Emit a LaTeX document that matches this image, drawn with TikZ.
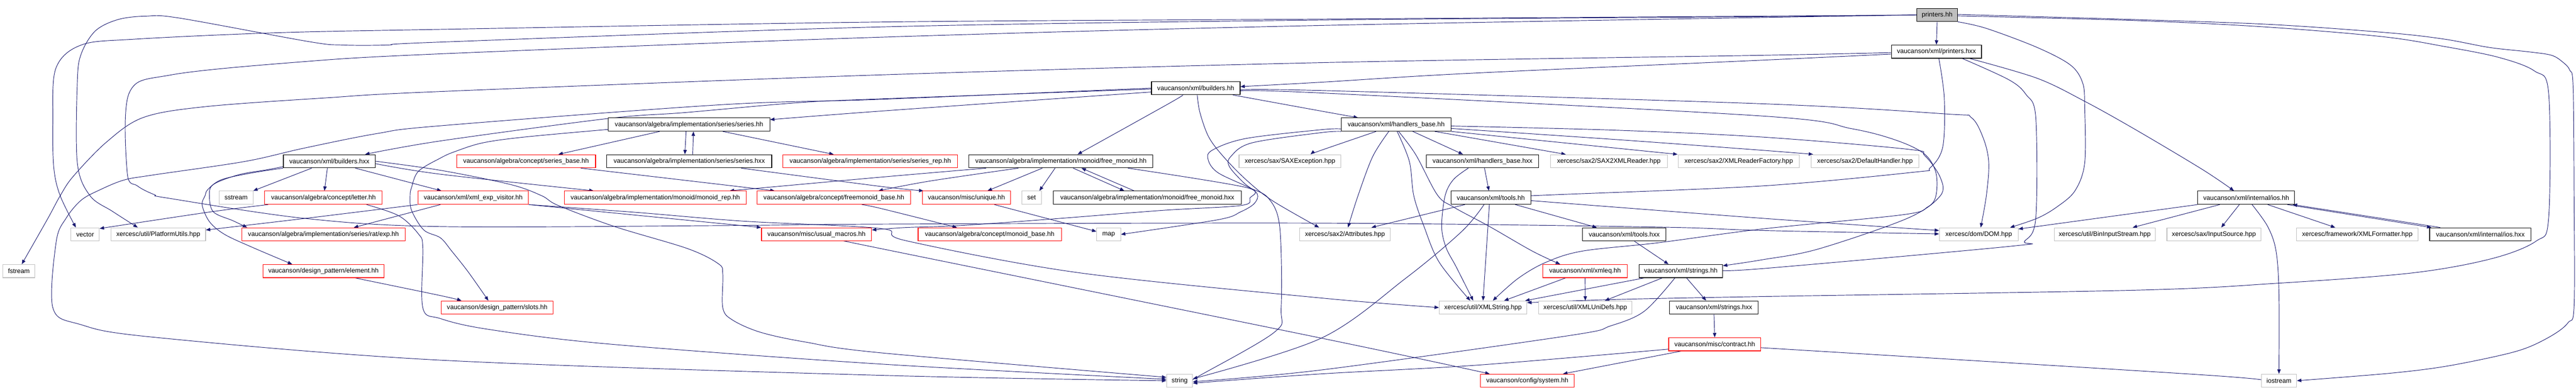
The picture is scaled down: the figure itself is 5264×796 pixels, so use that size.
\documentclass[tikz,border=0pt]{standalone}
\usepackage{fontspec}
\setmainfont{Liberation Sans}
\usetikzlibrary{arrows.meta}
\definecolor{edgec}{HTML}{191970}
\definecolor{grayb}{HTML}{BFBFBF}
\definecolor{redb}{HTML}{FF0000}
\newcommand\dxfont{\fontsize{13.3pt}{15pt}\selectfont}
\pgfdeclarelayer{bg}
\pgfsetlayers{bg,main}
\begin{document}
\begin{tikzpicture}[x=1pt,y=-1pt,
  box/.style={draw=black, line width=1.2pt, minimum height=27pt, inner sep=0pt, fill=white, font=\dxfont, text=black},
  rbox/.style={box, draw=redb},
  gbox/.style={box, draw=grayb},
  rootbox/.style={box, fill=grayb},
  edge/.style={draw=edgec, line width=1pt, -{Triangle[length=9pt,width=7pt]}},
  sm/.style={smooth, tension=0.55}]
\useasboundingbox (0,0) rectangle (5264,796);
% row A/B/C/D
\node[rootbox, minimum width=83pt] (ph) at (3958.5,30.5) {printers.hh};
\node[box, minimum width=184pt] (phx) at (3957,105.5) {vaucanson/xml/printers.hxx};
\node[box, minimum width=181pt] (bh) at (2443.5,180) {vaucanson/xml/builders.hh};
\node[box, minimum width=330pt] (ser) at (1408,254.5) {vaucanson/algebra/implementation/series/series.hh};
\node[box, minimum width=224pt] (hb) at (2853,254.5) {vaucanson/xml/handlers\_base.hh};
% row E
\node[box, minimum width=188pt] (bx) at (673,329.5) {vaucanson/xml/builders.hxx};
\node[rbox, minimum width=284pt] (sb) at (1075,329.5) {vaucanson/algebra/concept/series\_base.hh};
\node[box, minimum width=337pt] (sxx) at (1408.5,329.5) {vaucanson/algebra/implementation/series/series.hxx};
\node[rbox, minimum width=357pt] (sr) at (1778.5,329.5) {vaucanson/algebra/implementation/series/series\_rep.hh};
\node[box, minimum width=376pt] (fm) at (2168,329.5) {vaucanson/algebra/implementation/monoid/free\_monoid.hh};
\node[gbox, minimum width=208pt] (sax) at (2636,329.5) {xercesc/sax/SAXException.hpp};
\node[box, minimum width=229pt] (hbx) at (3029.5,329.5) {vaucanson/xml/handlers\_base.hxx};
\node[gbox, minimum width=239pt] (s2x) at (3287.5,329.5) {xercesc/sax2/SAX2XMLReader.hpp};
\node[gbox, minimum width=248pt] (xrf) at (3553,329.5) {xercesc/sax2/XMLReaderFactory.hpp};
\node[gbox, minimum width=220pt] (dh) at (3811,329.5) {xercesc/sax2/DefaultHandler.hpp};
% row F
\node[gbox, minimum width=69pt] (ss) at (482.5,404) {sstream};
\node[rbox, minimum width=240pt] (lt) at (661,404) {vaucanson/algebra/concept/letter.hh};
\node[rbox, minimum width=226pt] (xv) at (967,404) {vaucanson/xml/xml\_exp\_visitor.hh};
\node[rbox, minimum width=372pt] (mr) at (1339,404) {vaucanson/algebra/implementation/monoid/monoid\_rep.hh};
\node[rbox, minimum width=314pt] (fb) at (1704,404) {vaucanson/algebra/concept/freemonoid\_base.hh};
\node[rbox, minimum width=180pt] (uq) at (1975,404) {vaucanson/misc/unique.hh};
\node[gbox, minimum width=40pt] (st) at (2108,404) {set};
\node[box, minimum width=385pt] (fmx) at (2344.5,404) {vaucanson/algebra/implementation/monoid/free\_monoid.hxx};
\node[box, minimum width=163pt] (th) at (3046.5,404) {vaucanson/xml/tools.hh};
\node[box, minimum width=198pt] (ioh) at (4590,404) {vaucanson/xml/internal/ios.hh};
% row G
\node[gbox, minimum width=58pt] (vec) at (174,479) {vector};
\node[gbox, minimum width=193pt] (pu) at (323.5,479) {xercesc/util/PlatformUtils.hpp};
\node[rbox, minimum width=334pt] (ex) at (661,479) {vaucanson/algebra/implementation/series/rat/exp.hh};
\node[rbox, minimum width=225pt] (um) at (1668.5,479) {vaucanson/misc/usual\_macros.hh};
\node[rbox, minimum width=293pt] (mb) at (2022.5,479) {vaucanson/algebra/concept/monoid\_base.hh};
\node[gbox, minimum width=49pt] (mp) at (2265.5,479) {map};
\node[gbox, minimum width=185pt] (at) at (2748.5,479) {xercesc/sax2/Attributes.hpp};
\node[box, minimum width=170pt] (tx) at (3319,479) {vaucanson/xml/tools.hxx};
\node[gbox, minimum width=161pt] (dom) at (4043.5,479) {xercesc/dom/DOM.hpp};
\node[gbox, minimum width=206pt] (bis) at (4301,479) {xercesc/util/BinInputStream.hpp};
\node[gbox, minimum width=192pt] (is) at (4524,479) {xercesc/sax/InputSource.hpp};
\node[gbox, minimum width=248pt] (xf) at (4817,479) {xercesc/framework/XMLFormatter.hpp};
\node[box, minimum width=207pt] (ix) at (5068.5,479) {vaucanson/xml/internal/ios.hxx};
% row H
\node[gbox, minimum width=65pt] (fs) at (38.5,554) {fstream};
\node[rbox, minimum width=248pt] (el) at (661,554) {vaucanson/design\_pattern/element.hh};
\node[rbox, minimum width=172pt] (xq) at (3239,554) {vaucanson/xml/xmleq.hh};
\node[box, minimum width=171pt] (sth) at (3434.5,554) {vaucanson/xml/strings.hh};
% row I
\node[rbox, minimum width=228pt] (sl) at (1016,628.5) {vaucanson/design\_pattern/slots.hh};
\node[gbox, minimum width=179pt] (xs) at (3030.5,628.5) {xercesc/util/XMLString.hpp};
\node[gbox, minimum width=191pt] (xu) at (3239.5,628.5) {xercesc/util/XMLUniDefs.hpp};
\node[box, minimum width=181pt] (shx) at (3502.5,628.5) {vaucanson/xml/strings.hxx};
% row K, J
\node[rbox, minimum width=188pt] (ct) at (3504,703.5) {vaucanson/misc/contract.hh};
\node[gbox, minimum width=53pt] (str) at (2410.5,778) {string};
\node[rbox, minimum width=192pt] (sys) at (3121,778) {vaucanson/config/system.hh};
\node[gbox, minimum width=72pt] (ios) at (4657,778) {iostream};

\begin{pgfonlayer}{bg}
% printers.hh
\draw[edge] (ph.south) -- (phx.north);
\draw[edge] plot[sm] coordinates {(ph.west) (3600,33) (2700,39) (1800,45) (900,60) (563,67) (276,80) (166,92) (114,140) (108,250) (110,343) (123,400) ([xshift=-19pt]vec.north)};
\draw[edge] plot[sm] coordinates {(ph.west) (3600,34) (2700,41) (1800,55) (900,86) (792,92) (700,92) (631,85) (367,37) (298,33) (241,40) (195,63) (166,110) (158,167) (158,333) (184,400) (230,432) ([xshift=-42pt]pu.north)};
\draw[edge] plot[sm] coordinates {(ph.west) (2700,52) (1800,76) (900,110) (608,127) (350,153) (264,190) (260,353) (281,380) (316,398) (344,405) (620,446) (900,463) (1471,461) (1800,458) (2700,456) (3383,464) (3600,471) ([yshift=1pt]dom.west)};
\draw[edge] plot[sm] coordinates {(ph.south east) (4059,58) (4163,97) (4231,133) (4256,170) (4260,220) (4260,333) (4240,390) (4203,423) (4163,446) ([xshift=64pt]dom.north)};
\draw[edge] plot[sm] coordinates {([yshift=-2pt]ph.east) (4364,42) (4628,55) (4869,75) (4995,95) (5105,117) (5179,145) (5208,190) (5208,446) (5182,493) (5090,529) (4927,558) (4651,579) (4364,593) (3600,606) (3300,612) ([yshift=10pt]xs.east)};
\draw[edge] plot[sm] coordinates {([yshift=1pt]ph.east) (4364,40) (4640,50) (4881,67) (4995,80) (5087,97) (5168,106) (5214,113) (5237,127) (5251,143) (5258,177) (5260,400) (5260,626) (5248,659) (5219,683) (5168,709) (5110,726) (4995,749) (4881,763) (ios.east)};
% printers.hxx
\draw[edge] plot[sm] coordinates {([yshift=-2pt]phx.west) (3600,113) (2700,128) (1800,153) (900,187) (666,200) (419,218) (293,240) (218,290) (150,360) (123,400) (98,446) ([xshift=6pt]fs.north)};
\draw[edge] plot[sm] coordinates {([yshift=-5pt]phx.west) (3600,123) (3000,150) (2700,168) ([yshift=3pt]bh.east)};
\draw[edge] plot[sm] coordinates {([xshift=5pt]phx.south) (3973,200) (3970,300) (3944,343) (3910,352) (3600,380) (3176,398) ([yshift=4pt]th.east)};
\draw[edge] plot[sm] coordinates {([xshift=53pt]phx.south) (4105,163) (4140,193) (4160,240) (4160,446) (4137,493) (4111,503) (3600,549) ([yshift=3pt]sth.east)};
\draw[edge] plot[sm] coordinates {([xshift=68pt]phx.south) (4163,160) (4260,207) (4364,265) (4500,346) ([xshift=-25pt]ioh.north)};
% builders.hh
\draw[edge] plot[sm] coordinates {([yshift=-2pt]bh.west) (1800,202) (1629,210) (1400,230) (1244,242) (900,288) ([xshift=73pt]bx.north)};
\draw[edge] plot[sm] coordinates {([yshift=-8pt]bh.west) (1800,227) ([yshift=10pt]ser.east)};
\draw[edge] plot[sm] coordinates {(bh.west) (1800,203) (1474,214) (900,257) (770,273) (620,303) (500,330) (310,358) (253,368) (204,388) (166,409) (135,446) (115,493) (108,629) (164,663) (313,689) (900,736) (1800,767) (str.west)};
\draw[edge] plot[sm] coordinates {([xshift=-26pt]bh.south) (2386,213) ([xshift=34pt]fm.north)};
\draw[edge] plot[sm] coordinates {([xshift=3pt]bh.south) (2452,230) (2470,280) (2500,320) (2546,367) (2600,410) ([xshift=-53pt]at.north)};
\draw[edge] plot[sm] coordinates {([xshift=76pt]bh.south) (2700,227) ([xshift=-78pt]hb.north)};
\draw[edge] plot[sm] coordinates {([yshift=-4pt]bh.east) (2700,185) (3600,212) (3979,233) (4028,240) (4053,283) (4064,333) (4059,400) ([xshift=4pt]dom.north)};
\draw[edge] plot[sm] coordinates {([yshift=-6pt]bh.east) (2700,190) (3600,237) (3784,263) (3876,287) (3933,315) (3956,353) (3956,400) (3939,423) (3887,439) (3600,468) (3389,496) (3234,513) (3159,536) (3102,569) ([xshift=20pt]xs.north)};
% handlers_base.hh
\draw[edge] ([xshift=34pt]hb.south) -- ([xshift=-40pt]hbx.north);
\draw[edge] ([xshift=79pt]hb.south) -- ([xshift=-88pt]s2x.north);
\draw[edge] (hb.south east) -- ([xshift=-125pt]xrf.north);
\draw[edge] plot[sm] coordinates {([yshift=-8pt]hb.east) (3300,285) (3600,307) ([xshift=-106pt]dh.north)};
\draw[edge] plot[sm] coordinates {([yshift=-3pt]hb.east) (3300,266) (3600,280) (3899,305) (3933,318) (3965,363) (3965,400) (3898,446) (3715,509) (3600,531) ([yshift=11pt]sth.east)};
\draw[edge] plot[sm] coordinates {([xshift=-41pt]hb.south) (2700,307) ([xshift=42pt]sax.north)};
\draw[edge] plot[sm] coordinates {([xshift=-15pt]hb.south) (2805,320) (2775,400) ([xshift=6pt]at.north)};
\draw[edge] plot[sm] coordinates {([xshift=2pt]hb.south) (2880,330) (2889,400) (2910,463) (2941,536) ([xshift=-26pt]xs.north)};
\draw[edge] plot[sm] coordinates {([xshift=5pt]hb.south) (2893,316) (2937,398) (2970,423) (3044,463) (3131,513) ([xshift=-51pt]xq.north)};
\draw[edge] plot[sm] coordinates {([yshift=-9pt]hb.west) (2700,265) (2546,283) (2477,307) (2469,327) (2489,353) (2552,383) (2592,405) (2615,463) (2618,629) (2604,679) (2449,769) ([yshift=2pt]str.east)};
\draw[edge] plot[sm] coordinates {(hb.south west) (2700,271) (2558,292) (2515,320) (2512,340) (2541,373) (2569,396) (2563,416) (2535,433) (2489,449) (mp.east)};
% handlers_base.hxx
\draw[edge] ([xshift=4pt]hbx.south) -- ([xshift=-4pt]th.north);
\draw[edge] plot[sm] coordinates {([xshift=-29pt]hbx.south) (2970,367) (2953,400) (2946,463) (2955,506) (2976,546) ([xshift=-20pt]xs.north)};
% tools.hh
\draw[edge] ([xshift=-53pt]th.south) -- ([xshift=54pt]at.north);
\draw[edge] ([xshift=-3pt]th.south) -- (xs.north);
\draw[edge] ([xshift=50pt]th.south) -- ([xshift=-56pt]tx.north);
\draw[edge] plot[sm] coordinates {([yshift=-6pt]th.east) (3600,446) ([yshift=8pt]dom.west)};
\draw[edge] plot[sm] coordinates {([xshift=-14pt]th.south) (2987,473) (2872,569) (2700,691) ([yshift=4pt]str.east)};
% tools.hxx / strings / xmleq
\draw[edge] ([xshift=21pt]tx.south) -- ([xshift=-25pt]sth.north);
\draw[edge] ([xshift=-75pt]sth.south) -- ([xshift=-4pt]xs.north east);
\draw[edge] ([xshift=-38pt]sth.south) -- ([xshift=40pt]xu.north);
\draw[edge] ([xshift=12pt]sth.south) -- ([xshift=-16pt]shx.north);
\draw[edge] plot[sm] coordinates {([xshift=-12pt]sth.south) (3360,636) (3291,666) (3205,686) (2700,756) ([yshift=-2pt]str.east)};
\draw[edge] ([xshift=-40pt]xq.south) -- ([xshift=43pt]xs.north);
\draw[edge] (xq.south) -- (xu.north);
\draw[edge] (shx.south) -- (ct.north);
% contract
\draw[edge] ([xshift=-69pt]ct.south) -- ([xshift=73pt]sys.north);
\draw[edge] plot[sm] coordinates {([yshift=-10pt]ct.west) (3021,746) (2700,764) ([yshift=-5pt]str.east)};
\draw[edge] plot[sm] coordinates {([yshift=-7pt]ct.east) (4500,766) (ios.west)};
% usual_macros
\draw[edge] plot[sm] coordinates {([xshift=62pt]um.south) (1800,508) (2700,691) ([xshift=-77pt]sys.north)};
% ios.hh
\draw[edge] (ioh.south west) -- ([yshift=11pt]dom.east);
\draw[edge] ([xshift=-54pt]ioh.south) -- ([xshift=57pt]bis.north);
\draw[edge] ([xshift=-14pt]ioh.south) -- ([xshift=15pt]is.north);
\draw[edge] plot[sm] coordinates {([xshift=12pt]ioh.south) (4634,463) (4651,513) (4657,600) (ios.north)};
\draw[edge] ([xshift=44pt]ioh.south) -- ([xshift=-45pt]xf.north);
\draw[edge] ([xshift=84pt]ioh.south) -- ([xshift=-100pt]ix.north);
\draw[edge] ([xshift=-82pt]ix.north) -- ([xshift=95pt]ioh.south);
% builders.hxx
\draw[edge] ([xshift=-36pt]bx.south) -- ([xshift=35pt]ss.north);
\draw[edge] ([xshift=-4pt]bx.south) -- ([xshift=2pt]lt.north);
\draw[edge] ([xshift=53pt]bx.south) -- ([xshift=-65pt]xv.north);
\draw[edge] plot[sm] coordinates {([yshift=-5pt]bx.east) (900,356) ([xshift=-126pt]mr.north)};
\draw[edge] plot[sm] coordinates {(bx.east) (900,348) (1043,377) (1107,400) (1141,420) (1256,463) (1405,508) (1468,539) (1477,560) (1477,629) (1497,654) (1554,679) (1646,699) (1800,721) ([yshift=7pt]str.west)};
\draw[edge] plot[sm] coordinates {(bx.south west) (517,353) (453,367) (425,387) (419,400) (413,419) (428,453) (459,479) (517,506) ([xshift=-64pt]el.north)};
\draw[edge] plot[sm] coordinates {([yshift=3pt]bx.south west) (545,347) (488,357) (436,377) (428,400) (436,433) (476,451) ([xshift=-156pt]ex.north)};
% series.hh
\draw[edge] ([xshift=-60pt]ser.south) -- ([xshift=66pt]sb.north);
\draw[edge] ([xshift=-6pt]ser.south) -- ([xshift=-9pt]sxx.north);
\draw[edge] ([xshift=7pt]sxx.north) -- ([xshift=9pt]ser.south);
\draw[edge] ([xshift=69pt]ser.south) -- ([xshift=-75pt]sr.north);
\draw[edge] plot[sm] coordinates {([yshift=-10pt]ser.west) (1072,280) (986,292) (929,310) (900,323) (855,350) (841,383) (838,400) (841,430) (866,470) (900,486) (923,513) (957,556) ([xshift=-18pt]sl.north)};
\draw[edge] ([xshift=112pt]sb.south) -- ([xshift=-121pt]fb.north);
\draw[edge] plot[sm] coordinates {([xshift=106pt]sxx.south) (1800,381) ([xshift=-88pt]uq.north)};
% free_monoid.hh
\draw[edge] plot[sm] coordinates {([xshift=-153pt]fm.south) (1800,362) ([xshift=152pt]mr.north)};
\draw[edge] plot[sm] coordinates {([xshift=-87pt]fm.south) (1900,370) ([xshift=91pt]fb.north)};
\draw[edge] ([xshift=-38pt]fm.south) -- ([xshift=43pt]uq.north);
\draw[edge] ([xshift=-12pt]fm.south) -- ([xshift=16pt]st.north);
\draw[edge] ([xshift=25pt]fm.south) -- ([xshift=-47pt]fmx.north);
\draw[edge] ([xshift=-27pt]fmx.north) -- ([xshift=42pt]fm.south);
\draw[edge] plot[sm] coordinates {([xshift=137pt]fm.south) (2546,383) (2554,405) (2535,420) (2374,430) (2144,448) (1961,461) (1850,465) ([yshift=9pt]um.east)};
\draw[edge] ([xshift=57pt]uq.south) -- ([yshift=6pt]mp.west);
\draw[edge] plot[sm] coordinates {([xshift=57pt]fb.south) (1800,426) ([xshift=-67pt]mb.north)};
% element, letter, xml_exp_visitor
\draw[edge] plot[sm] coordinates {([xshift=65pt]el.south) (900,604) ([xshift=-73pt]sl.north)};
\draw[edge] plot[sm] coordinates {([xshift=-113pt]lt.south) (430,433) ([yshift=12pt]vec.east)};
\draw[edge] plot[sm] coordinates {([xshift=88pt]lt.south) (815,441) (855,478) (864,506) (864,629) (900,651) (998,673) (1244,703) (1800,744) ([yshift=3pt]str.west)};
\draw[edge] ([xshift=-67pt]xv.south) -- ([xshift=62pt]ex.north);
\draw[edge] plot[sm] coordinates {(xv.south west) (626,446) ([yshift=9pt]pu.east)};
\draw[edge] plot[sm] coordinates {(xv.south east) (1300,434) (1520,452) (1800,467) (1852,492) (2202,557) (2700,609) (xs.west)};
\draw[edge] (xv.south east) -- (um.north west);
\end{pgfonlayer}
\end{tikzpicture}
\end{document}
